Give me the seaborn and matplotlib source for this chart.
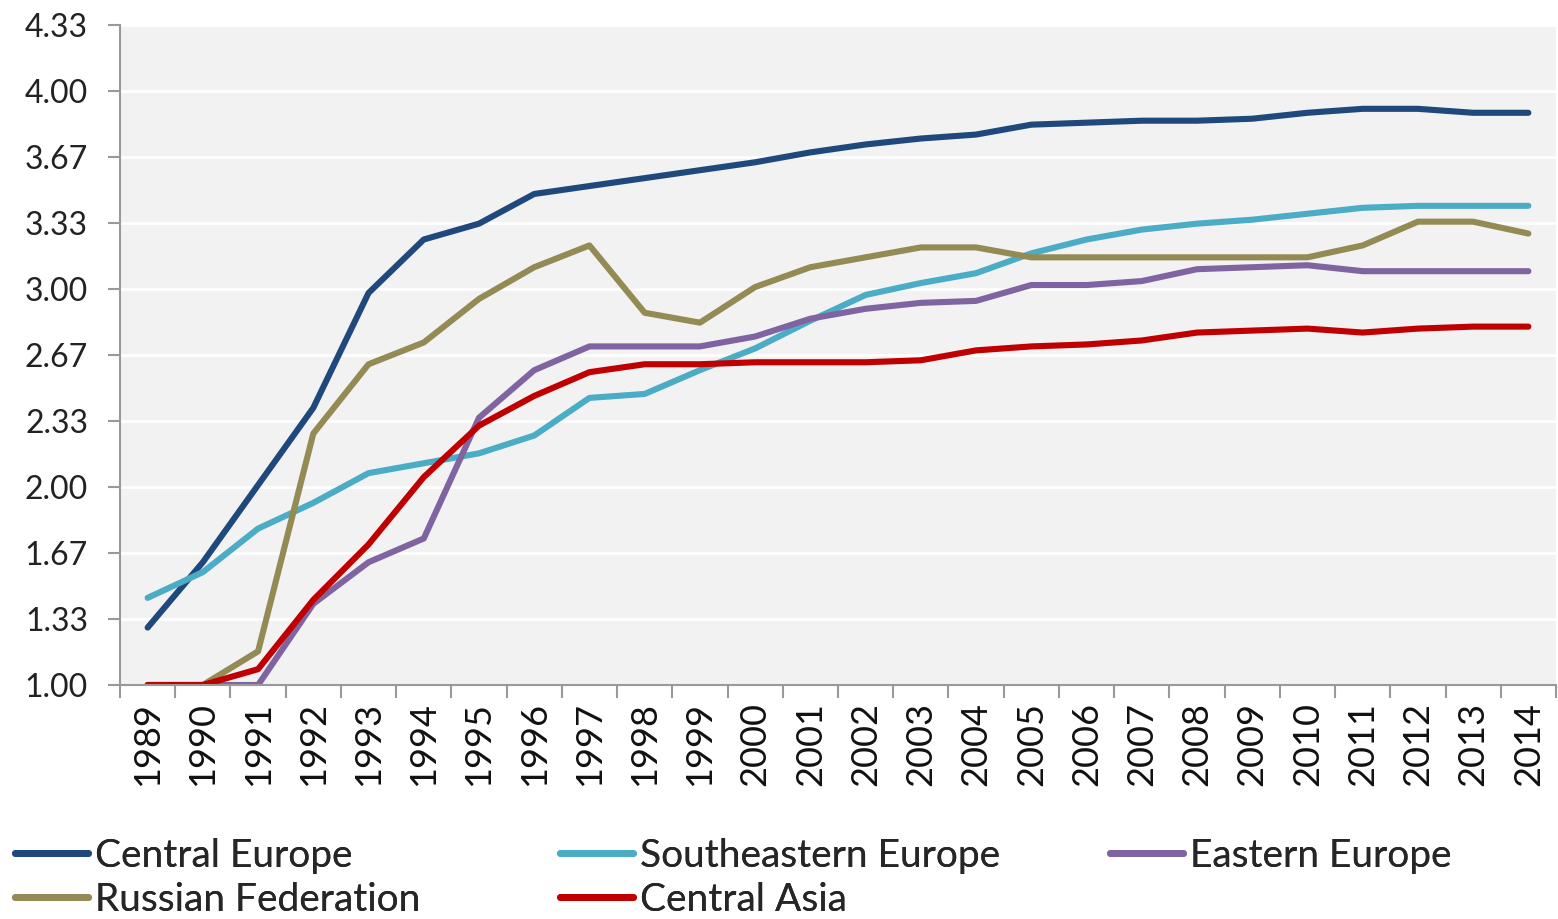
import numpy as np
import pandas as pd
import seaborn as sns
import matplotlib
matplotlib.use("Agg")
import matplotlib.pyplot as plt
from matplotlib.ticker import FixedLocator
from matplotlib.lines import Line2D

years = list(range(1989, 2015))

central_europe = [1.29, 1.62, 2.01, 2.40, 2.98, 3.25, 3.33, 3.48, 3.52, 3.56, 3.60, 3.64, 3.69,
                  3.73, 3.76, 3.78, 3.83, 3.84, 3.85, 3.85, 3.86, 3.89, 3.91, 3.91, 3.89, 3.89]
southeastern_europe = [1.44, 1.57, 1.79, 1.92, 2.07, 2.12, 2.17, 2.26, 2.45, 2.47, 2.59, 2.70, 2.84,
                       2.97, 3.03, 3.08, 3.18, 3.25, 3.30, 3.33, 3.35, 3.38, 3.41, 3.42, 3.42, 3.42]
eastern_europe = [1.00, 1.00, 1.00, 1.41, 1.62, 1.74, 2.35, 2.59, 2.71, 2.71, 2.71, 2.76, 2.85,
                  2.90, 2.93, 2.94, 3.02, 3.02, 3.04, 3.10, 3.11, 3.12, 3.09, 3.09, 3.09, 3.09]
russian_federation = [1.00, 1.00, 1.17, 2.27, 2.62, 2.73, 2.95, 3.11, 3.22, 2.88, 2.83, 3.01, 3.11,
                      3.16, 3.21, 3.21, 3.16, 3.16, 3.16, 3.16, 3.16, 3.16, 3.22, 3.34, 3.34, 3.28]
central_asia = [1.00, 1.00, 1.08, 1.43, 1.71, 2.05, 2.31, 2.46, 2.58, 2.62, 2.62, 2.63, 2.63,
                2.63, 2.64, 2.69, 2.71, 2.72, 2.74, 2.78, 2.79, 2.80, 2.78, 2.80, 2.81, 2.81]

y_ticks = [1.00, 1.33, 1.67, 2.00, 2.33, 2.67, 3.00, 3.33, 3.67, 4.00, 4.33]

series = {
    "Central Europe": central_europe,
    "Southeastern Europe": southeastern_europe,
    "Eastern Europe": eastern_europe,
    "Russian Federation": russian_federation,
    "Central Asia": central_asia,
}
colors = {
    "Central Europe": "#1f497d",
    "Southeastern Europe": "#4bacc6",
    "Eastern Europe": "#8064a2",
    "Russian Federation": "#948a54",
    "Central Asia": "#c00000",
}

rows = []
for name, vals in series.items():
    for i, (yr, v) in enumerate(zip(years, vals)):
        rows.append({"idx": i, "year": yr, "value": v, "region": name})
df = pd.DataFrame(rows)

sns.set_theme(style="white")
plt.rcParams['font.family'] = ['Lato', 'DejaVu Sans']

fig = plt.figure(figsize=(15.58, 9.19), dpi=100)
ax = fig.add_axes([120 / 1558, 1 - 685 / 919, 1436 / 1558, 660 / 919])
ax.set_facecolor("#f2f2f2")

sns.lineplot(data=df, x="idx", y="value", hue="region", palette=colors,
             hue_order=list(series.keys()), linewidth=4.4, ax=ax, legend=False,
             sort=False, estimator=None)
for line in ax.lines:
    line.set_solid_capstyle("round")
    line.set_solid_joinstyle("round")

ax.set_xlim(-0.5, len(years) - 0.5)
ax.set_ylim(1.0, 4.333)
ax.set_yticks([1 + k / 3 for k in range(len(y_ticks))])
ax.set_yticklabels([f"{t:.2f}" for t in y_ticks], fontsize=23, color="#222222")
ax.set_xticks(range(len(years)))
ax.set_xticklabels([str(y) for y in years], rotation=90, fontsize=26, color="#111111")
ax.xaxis.set_minor_locator(FixedLocator(np.arange(-0.5, len(years), 1.0)))
ax.tick_params(axis="x", which="major", length=0, pad=12)
ax.tick_params(axis="x", which="minor", length=9, width=1.5, color="#999999", direction="out", bottom=True)
ax.tick_params(axis="y", which="major", length=9, width=1.5, color="#999999", direction="out", left=True, pad=14)
ax.grid(axis="y", color="white", linewidth=2)
ax.set_axisbelow(True)
for s in ["top", "right"]:
    ax.spines[s].set_visible(False)
for s in ["left", "bottom"]:
    ax.spines[s].set_color("#999999")
    ax.spines[s].set_linewidth(1.5)
ax.set_xlabel("")
ax.set_ylabel("")

legend_columns = [
    (15, ["Central Europe", "Russian Federation"]),
    (560, ["Southeastern Europe", "Central Asia"]),
    (1110, ["Eastern Europe"]),
]
for xpix, names in legend_columns:
    handles = [Line2D([0], [0], color=colors[n], linewidth=5) for n in names]
    leg = fig.legend(handles, names, loc="upper left",
                     bbox_to_anchor=(xpix / 1558, 1 - 838 / 919), ncol=1,
                     frameon=False, fontsize=28, handlelength=1.88, handletextpad=0.18,
                     labelspacing=0.2, borderaxespad=0, borderpad=0)
    fig.add_artist(leg)

fig.savefig("out.png", dpi=100, facecolor="white")
